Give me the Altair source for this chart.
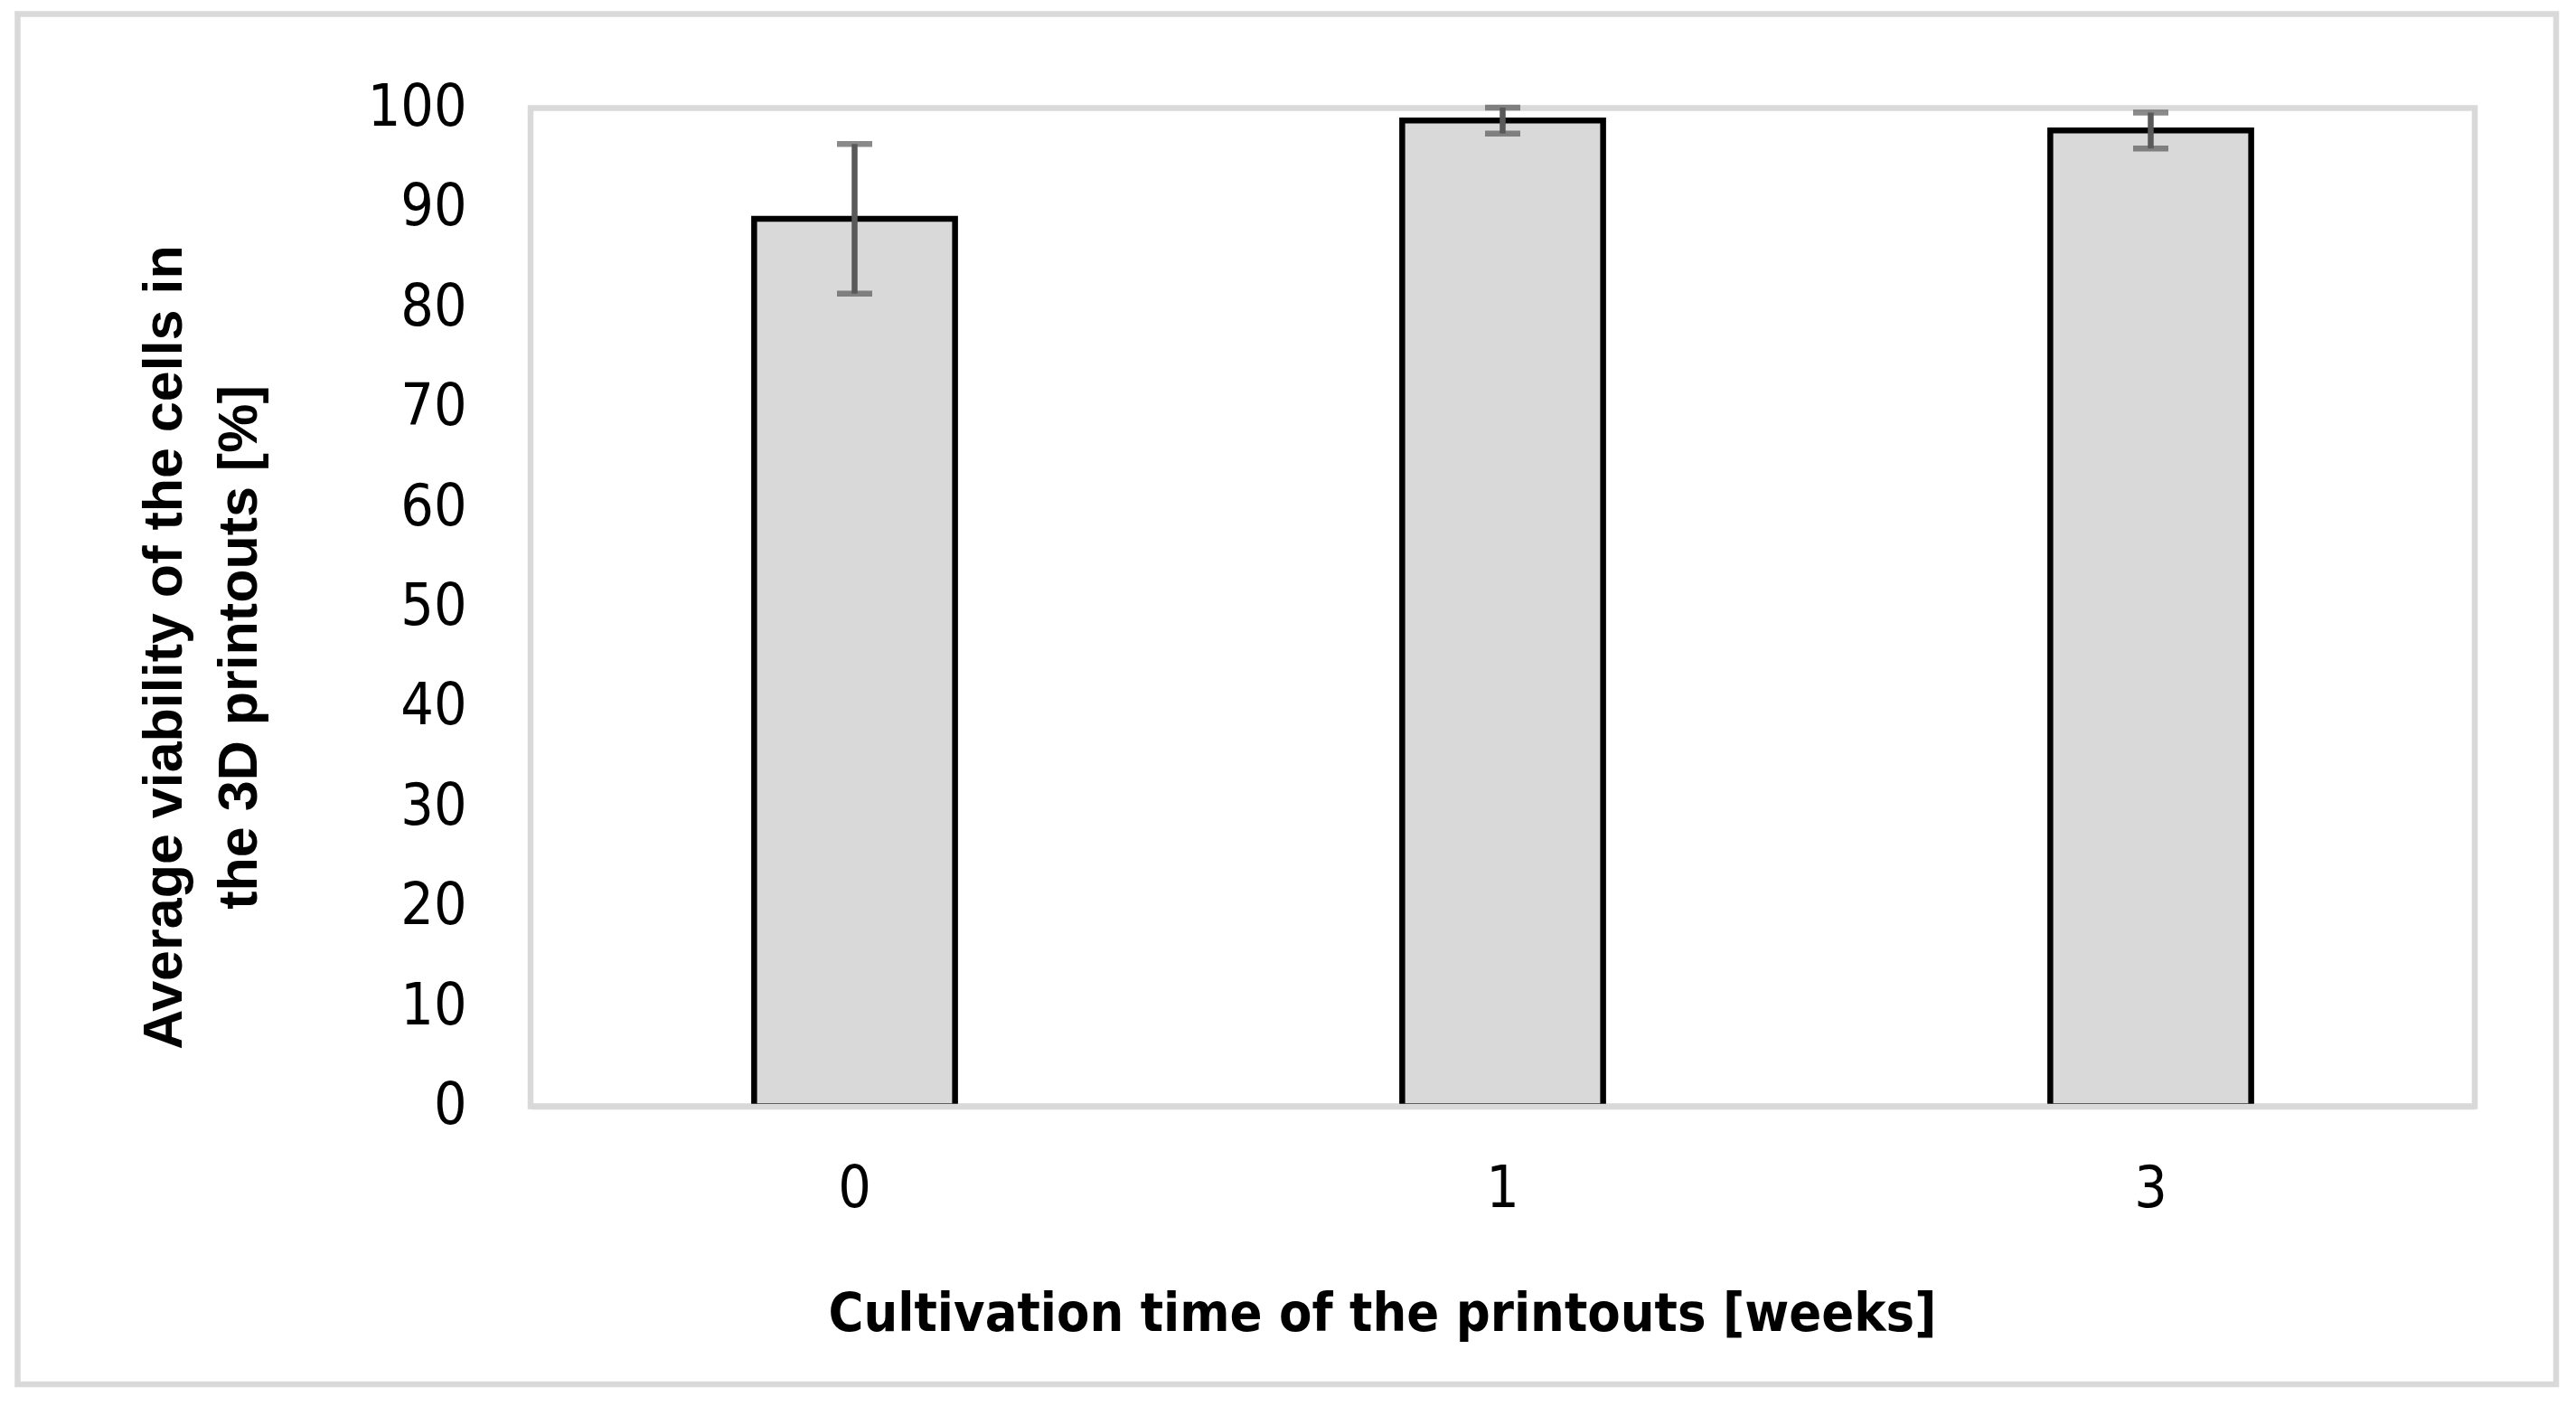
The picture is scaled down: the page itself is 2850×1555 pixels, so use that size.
import altair as alt
import pandas as pd

# ---- data ----
weeks = ["0", "1", "3"]
mean_viability = [88.9, 98.75, 97.75]
error = [7.5, 1.3, 1.8]

df = pd.DataFrame({"week": weeks, "mean": mean_viability, "err": error})

NARROW = "Liberation Sans Narrow, Arial Narrow, DejaVu Sans Condensed, sans-serif"
BOLD = "Liberation Sans, Arial, Helvetica, sans-serif"
GRAY = "#d9d9d9"
W, H = 2151, 1104

x_enc = alt.X(
    "week:N",
    sort=weeks,
    scale=alt.Scale(paddingInner=0.69, paddingOuter=0.345),
    axis=alt.Axis(
        labelAngle=0, ticks=False, tickSize=0, domain=True,
        domainColor=GRAY, domainWidth=6.5, zindex=1,
        labelPadding=60, labelFontSize=64, labelFont=NARROW, labelColor="black",
        title="Cultivation time of the printouts [weeks]",
        titleFont=NARROW, titleFontWeight="bold", titleFontSize=59, titleColor="black",
        titleX=942, titleY=248, titleAlign="center", titleBaseline="alphabetic",
    ),
)

y_scale = alt.Scale(domain=[0, 100], nice=False)

base = alt.Chart(df)

bars = base.mark_bar(fill=GRAY, stroke="black", strokeWidth=6.5).encode(
    x=x_enc,
    y=alt.Y(
        "mean:Q",
        scale=y_scale,
        axis=alt.Axis(
            values=list(range(0, 101, 10)), grid=False, domain=False, ticks=False,
            tickSize=0, labelPadding=71, labelFontSize=64, labelFont=NARROW,
            labelColor="black", labelOverlap=False,
            title=["Average viability of the cells in", "the 3D printouts [%]"],
            titleFont=BOLD, titleFontWeight="bold", titleFontSize=61, titleColor="black",
            titleAngle=270, titleX=-405, titleY=596, titleAlign="center",
            titleBaseline="middle", titleLineHeight=83,
        ),
    ),
)

calc = base.transform_calculate(
    lower="datum.mean - datum.err", upper="datum.mean + datum.err"
)

rule = calc.mark_rule(color="#595959", strokeWidth=6.5).encode(
    x=alt.X("week:N", sort=weeks),
    y=alt.Y("lower:Q", scale=y_scale),
    y2="upper:Q",
)

tick_lo = calc.mark_tick(color="#595959", size=39, thickness=6.5).encode(
    x=alt.X("week:N", sort=weeks),
    y=alt.Y("lower:Q", scale=y_scale),
)
tick_hi = calc.mark_tick(color="#595959", size=39, thickness=6.5).encode(
    x=alt.X("week:N", sort=weeks),
    y=alt.Y("upper:Q", scale=y_scale),
)

frame = alt.Chart(pd.DataFrame({"f": [1]})).mark_rect(
    fillOpacity=0, stroke=GRAY, strokeWidth=6.5
).encode(
    x=alt.value(-567.5), x2=alt.value(W + 90),
    y=alt.value(-104), y2=alt.value(H + 307.5),
)

chart = (
    alt.layer(frame, bars, rule, tick_lo, tick_hi)
    .properties(
        width=W, height=H,
        autosize=alt.AutoSizeParams(type="none"),
        padding={"left": 579, "top": 111.5, "right": 100, "bottom": 316},
        background="white",
    )
    .configure_view(stroke=GRAY, strokeWidth=6.5)
)

chart.save("out.html", embed_options={"renderer": "svg", "actions": False})
